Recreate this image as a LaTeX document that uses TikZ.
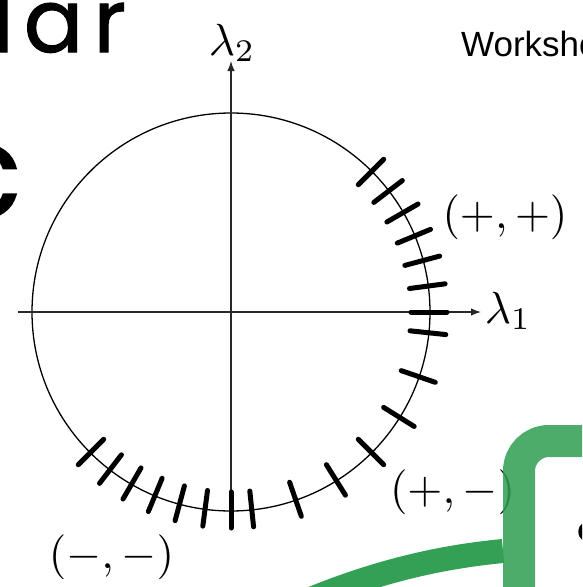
\documentclass[tikz,border=0pt]{standalone}
\usepackage{graphicx}
\usepackage{fontspec}
\newfontfamily\slidefont[FakeBold=1.2]{Poppins}
\newfontfamily\arialfont{Liberation Sans}
\usetikzlibrary{arrows.meta,calc}
\definecolor{barGreen}{RGB}{48,159,82}
\definecolor{curveGreen}{RGB}{51,160,85}
\definecolor{axisGray}{RGB}{40,40,40}
\newcommand{\mybigmath}[1]{\scalebox{4.5}{$#1$}}
\tikzset{
  axisline/.style={line width=1.3pt, draw=axisGray, -{Latex[length=10pt,width=7.5pt]}},
  circleline/.style={line width=1.3pt, draw=black},
  tickmark/.style={line width=5pt, line cap=round, draw=black},
  biglabel/.style={inner sep=0pt},
  slidetext/.style={inner sep=0pt, anchor=base west}
}
\begin{document}
\begin{tikzpicture}[x=1pt,y=-1pt]
\useasboundingbox (0,0) rectangle (582,587);
\clip (0,0) rectangle (582,587);
\fill[white] (0,0) rectangle (582,587);
% background slide text
\node[slidetext, font=\slidefont\fontsize{88}{88}\selectfont] (tlar) at (-8,52) {l\kern10pt a\kern10pt r};
\node[slidetext, anchor=base east, font=\slidefont\fontsize{130}{130}\selectfont] (tc) at (22,217) {c};
\node[slidetext, font=\arialfont\fontsize{35}{35}\selectfont] (tws) at (461,56) {Workshop};
% circle and axes
\coordinate (O) at (231,312);
\draw[circleline] (O) circle[radius=199pt];
\coordinate (xl) at (18,312);
\coordinate (xr) at (481,312);
\coordinate (yb) at (231,512);
\coordinate (yt) at (231,61);
\draw[axisline] (xl) -- (xr);
\draw[axisline] (yb) -- (yt);
% tick marks
\foreach \a in {45,37.5,30,22.5,15,7.5,0,-6,-19,-32,-45,-58,-71,-84,-90,-97.5,-105,-112.5,-120,-127.5,-135}{
  \draw[tickmark] ($(O)+({180*cos(\a)},{-180*sin(\a)})$) -- ($(O)+({216*cos(\a)},{-216*sin(\a)})$);
}
% labels
\node[biglabel, anchor=base] (l2) at (232,55) {\mybigmath{\lambda_2}};
\node[biglabel, anchor=base] (l1) at (508,323) {\mybigmath{\lambda_1}};
\node[biglabel, anchor=base] (pp) at (505,228) {\mybigmath{(+,+)}};
\node[biglabel, anchor=base] (pm) at (452.5,503) {\mybigmath{(+,-)}};
\node[biglabel, anchor=base] (mm) at (111.5,568) {\mybigmath{(-,-)}};
% partial text at right edge
\node[slidetext, font=\slidefont\fontsize{34}{34}\selectfont] (tq) at (577,541) {c};
% green shapes
\draw[curveGreen, line width=24pt] (503,551) .. controls (440,557) and (370,572) .. (285,610);
\draw[barGreen, opacity=0.86, line width=32pt, rounded corners=30pt] (519,600) -- (519,441) -- (600,441);
\end{tikzpicture}
\end{document}
